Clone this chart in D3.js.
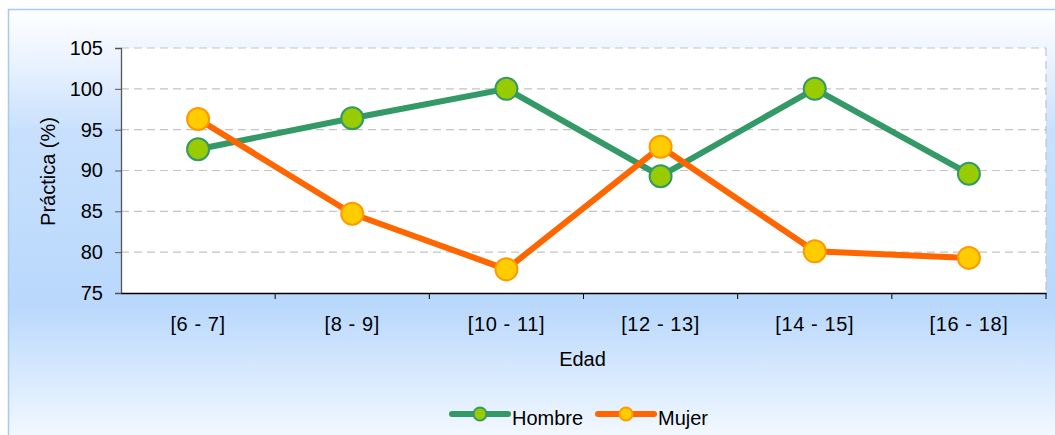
<!DOCTYPE html>
<html>
<head>
<meta charset="utf-8">
<script src="https://cdn.jsdelivr.net/npm/d3@7"></script>
<style>
  body { margin: 0; background: #fff; }
  svg { display: block; font-family: "Liberation Sans", Arial, sans-serif; }
</style>
</head>
<body>
<svg id="chart"></svg>
<script>
var categories = ["[6 - 7]", "[8 - 9]", "[10 - 11]", "[12 - 13]", "[14 - 15]", "[16 - 18]"];
var hombre = [92.6, 96.4, 100, 89.3, 100, 89.6];
var mujer = [96.3, 84.7, 77.9, 92.9, 80.1, 79.3];
var yTicks = [75, 80, 85, 90, 95, 100, 105];

var W = 1055, H = 435;
var fontSize = 20;
var margin = { top: 48, right: 9, bottom: 142, left: 121 },
  width = W - margin.left - margin.right,
  height = H - margin.top - margin.bottom;

var svg = d3.select('#chart').attr("width", W).attr("height", H);

// background gradient
var defs = svg.append("defs");
var grad = defs.append("linearGradient").attr("id", "bg")
  .attr("x1", 0).attr("y1", 0).attr("x2", 0).attr("y2", 1);
[[0, "#ffffff"], [0.1, "#eef5ff"], [0.28, "#c8e0fd"], [0.68, "#b9d8fc"], [1, "#f6faff"]]
  .forEach(function (s) { grad.append("stop").attr("offset", s[0]).attr("stop-color", s[1]); });

svg.append("rect").attr("x", 8.5).attr("y", 9.5).attr("width", W).attr("height", H)
  .attr("fill", "url(#bg)").attr("stroke", "#a6cbf3").attr("stroke-width", 1.5);

var g = svg.append("g").attr("transform", "translate(" + margin.left + "," + margin.top + ")");

var x = d3.scaleBand().domain(categories).range([0, width]);
var y = d3.scaleLinear().domain([75, 105]).range([height, 0]);

// plot area
g.append("rect").attr("width", width).attr("height", height).attr("fill", "#fff");

// gridlines
g.selectAll(".grid").data(yTicks.slice(1)).enter().append("line")
  .attr("x1", 0).attr("x2", width)
  .attr("y1", function (d) { return y(d); }).attr("y2", function (d) { return y(d); })
  .attr("stroke", "#c4c4c4").attr("stroke-width", 1.2).attr("stroke-dasharray", "8,5");
g.append("line").attr("x1", width).attr("x2", width).attr("y1", 0).attr("y2", height)
  .attr("stroke", "#c4c4c4").attr("stroke-width", 1.2).attr("stroke-dasharray", "8,5");

// y axis
var yAxis = g.append("g").call(d3.axisLeft(y).tickValues(yTicks).tickSize(6).tickPadding(12));
yAxis.select(".domain").attr("stroke", "#555").attr("stroke-width", 1.3);
yAxis.selectAll(".tick line").attr("stroke", "#555");
yAxis.selectAll("text").attr("font-size", fontSize).attr("fill", "#000").attr("font-family", "Liberation Sans, Arial");

// x axis with ticks at band boundaries
var xAxis = g.append("g").attr("transform", "translate(0," + height + ")")
  .call(d3.axisBottom(x).tickSize(0).tickPadding(24));
xAxis.select(".domain").attr("stroke", "#000").attr("stroke-width", 1.3);
xAxis.selectAll("text").attr("font-size", fontSize).attr("fill", "#000").attr("font-family", "Liberation Sans, Arial")
  .attr("letter-spacing", 0.6);
xAxis.selectAll(".bound").data(categories.map(function (c) { return x(c) + x.bandwidth(); }))
  .enter().append("line").attr("class", "bound")
  .attr("x1", function (d) { return d; }).attr("x2", function (d) { return d; })
  .attr("y1", 0).attr("y2", 6).attr("stroke", "#000");

// axis titles
g.append("text").attr("x", width / 2 - 1).attr("y", height + 73).attr("text-anchor", "middle")
  .attr("font-size", fontSize).text("Edad");
g.append("text").attr("transform", "translate(-66," + (height / 2 + 1) + ") rotate(-90)")
  .attr("text-anchor", "middle").attr("font-size", fontSize).text("Práctica (%)");

var series = [
  { name: "Hombre", values: hombre, line: "#339966", fill: "#99cc00", stroke: "#339966" },
  { name: "Mujer", values: mujer, line: "#ff6600", fill: "#ffcc00", stroke: "#ff9900" }
];

var line = d3.line()
  .x(function (d, i) { return x(categories[i]) + x.bandwidth() / 2; })
  .y(function (d) { return y(d); });

series.forEach(function (s) {
  g.append("path").datum(s.values).attr("d", line)
    .attr("fill", "none").attr("stroke", s.line).attr("stroke-width", 6)
    .attr("stroke-linejoin", "round");
});
series.forEach(function (s) {
  g.selectAll(".pt-" + s.name).data(s.values).enter().append("circle")
    .attr("cx", function (d, i) { return x(categories[i]) + x.bandwidth() / 2; })
    .attr("cy", function (d) { return y(d); })
    .attr("r", 11).attr("fill", s.fill).attr("stroke", s.stroke).attr("stroke-width", 2);
});

// legend
var legendX = [450, 596];
series.forEach(function (s, i) {
  var lg = svg.append("g").attr("transform", "translate(" + legendX[i] + ",414)");
  lg.append("line").attr("x1", 2).attr("x2", 58).attr("y1", 0).attr("y2", 0)
    .attr("stroke", s.line).attr("stroke-width", 6).attr("stroke-linecap", "round");
  lg.append("circle").attr("cx", 30).attr("cy", 0).attr("r", 6.5)
    .attr("fill", s.fill).attr("stroke", s.stroke).attr("stroke-width", 2);
  lg.append("text").attr("x", 62).attr("y", 11).attr("font-size", fontSize).text(s.name);
});
</script>
</body>
</html>
